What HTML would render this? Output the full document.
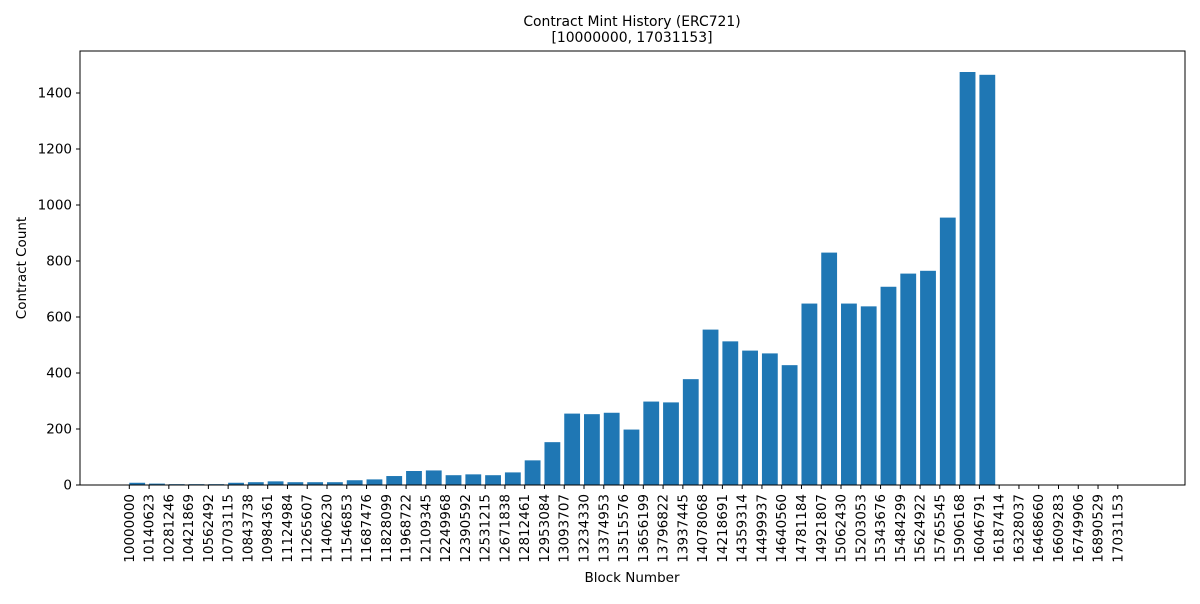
<!DOCTYPE html>
<html><head><meta charset="utf-8"><style>
body{margin:0;background:#fff;font-family:"DejaVu Sans","Liberation Sans",sans-serif}
</style></head><body>
<svg id="chart" width="1200" height="600" xmlns="http://www.w3.org/2000/svg" font-family="DejaVu Sans, Liberation Sans, sans-serif">
<rect width="1200" height="600" fill="#fff"/>
<text x="632" y="26" font-size="13.9" text-anchor="middle">Contract Mint History (ERC721)</text>
<text x="632" y="42" font-size="13.9" text-anchor="middle">[10000000, 17031153]</text>
<g id="bars"></g>
<g id="axes"></g>
<rect x="80" y="51" width="1105" height="434" fill="none" stroke="#000" stroke-width="1"/>
<text x="632" y="582" font-size="13.5" text-anchor="middle">Block Number</text>
<text transform="translate(26,268) rotate(-90)" font-size="13.5" text-anchor="middle">Contract Count</text>
</svg>
<script>
const categories=["10000000","10140623","10281246","10421869","10562492","10703115","10843738","10984361","11124984","11265607","11406230","11546853","11687476","11828099","11968722","12109345","12249968","12390592","12531215","12671838","12812461","12953084","13093707","13234330","13374953","13515576","13656199","13796822","13937445","14078068","14218691","14359314","14499937","14640560","14781184","14921807","15062430","15203053","15343676","15484299","15624922","15765545","15906168","16046791","16187414","16328037","16468660","16609283","16749906","16890529","17031153"];
const counts=[8,5,3,3,3,8,10,13,10,10,10,17,20,32,50,52,35,38,35,45,88,153,255,253,258,198,298,295,378,555,513,480,470,428,648,830,648,638,708,755,765,955,1475,1465,0,0,0,0,0,0,0];
const yTicks=[0,200,400,600,800,1000,1200,1400];
const NS="http://www.w3.org/2000/svg";
const step=19.77;
const xPos=i=>129.3+step*i;
const yPos=v=>485-v*0.28;
const bars=document.getElementById('bars'),axes=document.getElementById('axes');
function mk(t,a,p){const e=document.createElementNS(NS,t);for(const k in a)e.setAttribute(k,a[k]);p.appendChild(e);return e;}
counts.forEach((v,i)=>{
 const r=mk('rect',{x:xPos(i),y:yPos(v),width:step*0.8,height:485-yPos(v),fill:'#1f77b4'},bars);
 
 
});
categories.forEach((c,i)=>{
 const x=xPos(i);
 const tk=mk('line',{x1:x,x2:x,y1:485,y2:489,stroke:'#000'},axes);
 
 
 const t=mk('text',{transform:`translate(${x+4.5},494) rotate(-90)`,'font-size':13.5,'text-anchor':'end'},axes);
 t.textContent=c;
 
 
});
yTicks.forEach(v=>{
 const y=yPos(v);
 const tk=mk('line',{x1:76,x2:80,y1:y,y2:y,stroke:'#000'},axes);
 
 
 const t=mk('text',{x:72,y:y+4.5,'font-size':13.5,'text-anchor':'end'},axes);
 t.textContent=v;
 
 
});
</script>
</body></html>
